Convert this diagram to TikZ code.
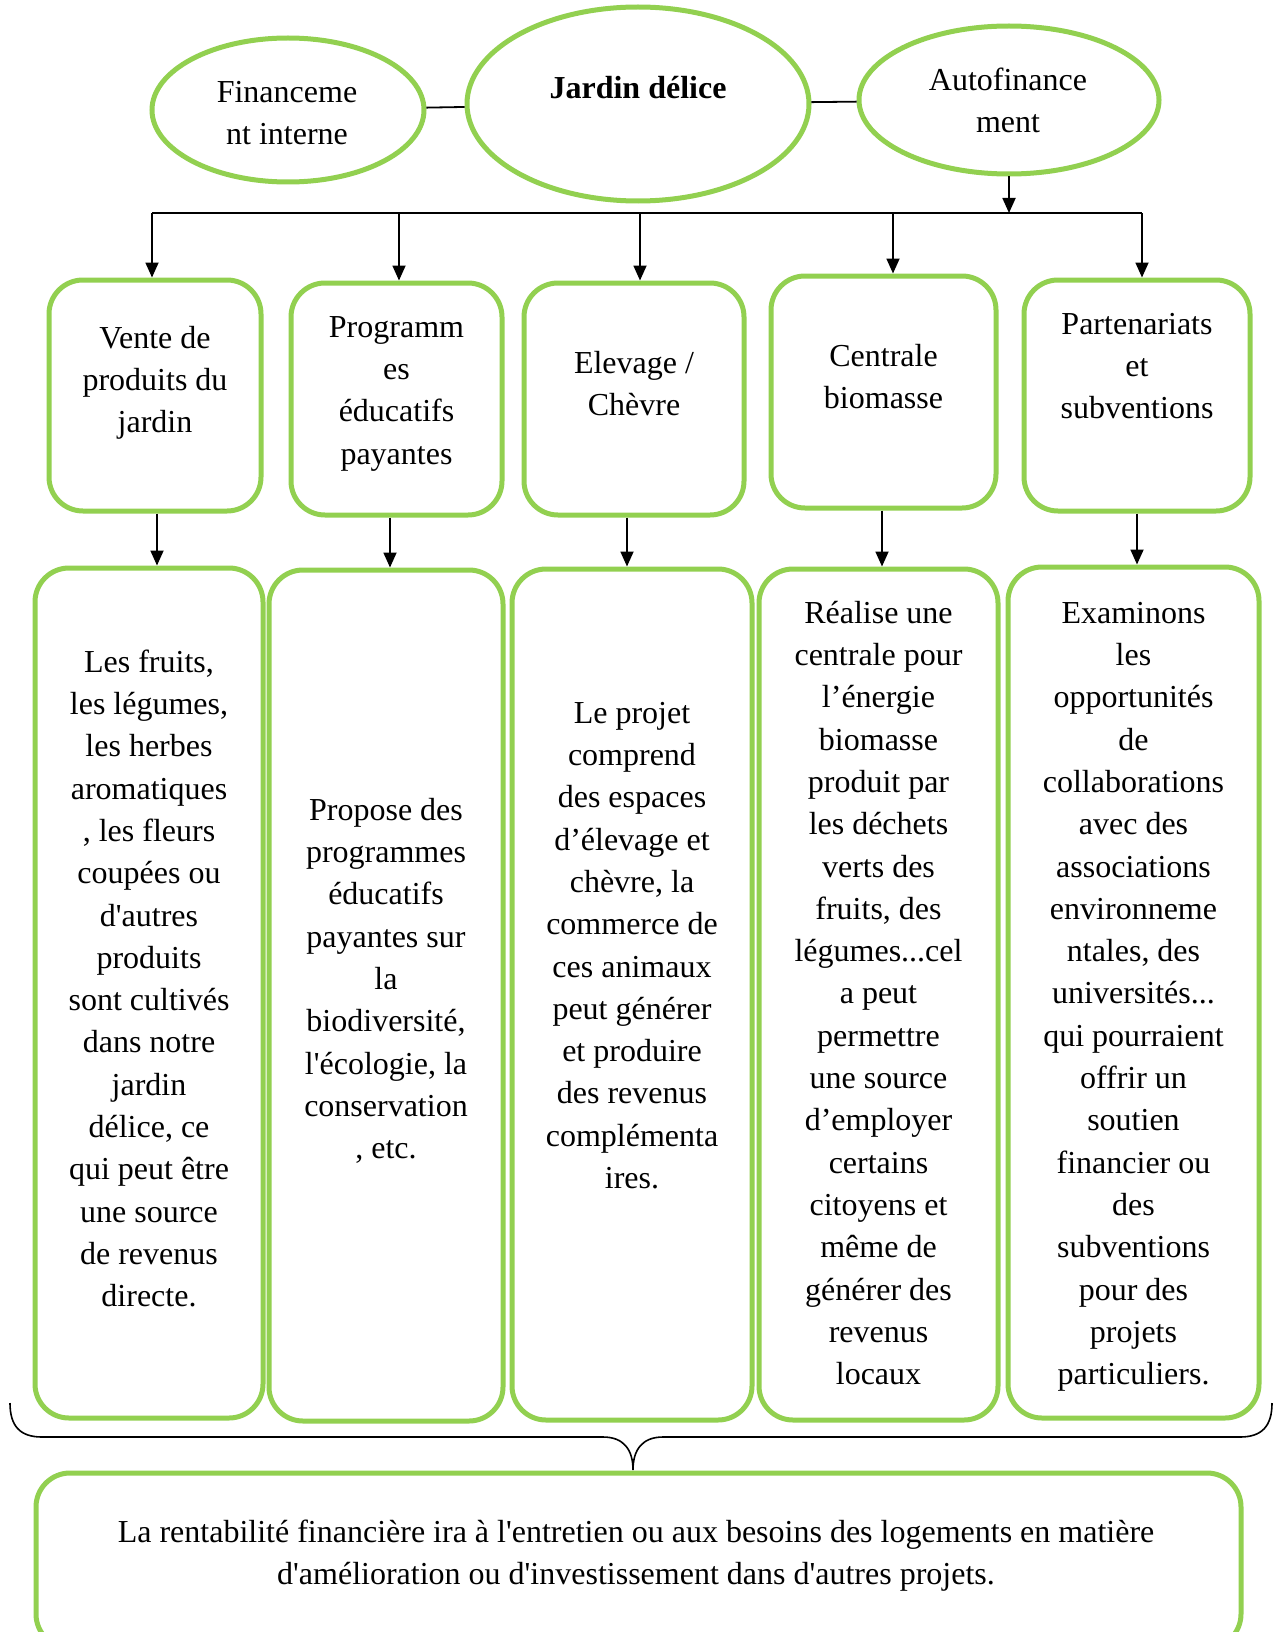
\documentclass[tikz,border=0pt]{standalone}
\usepackage{fontspec}
\setmainfont{Liberation Serif}[Ligatures=TeXOff]
\usetikzlibrary{shapes.geometric,arrows.meta}
\definecolor{lgreen}{HTML}{92D050}
\tikzset{
  gbox/.style={draw=lgreen, line width=5pt, rectangle, rounded corners=34pt, inner sep=0pt},
  gell/.style={draw=lgreen, line width=5pt, ellipse, inner sep=0pt},
  txt/.style={font=\fontsize{32}{42.3}\selectfont, align=center, inner sep=0pt, anchor=north},
  conn/.style={draw=black, line width=1.8pt},
  arr/.style={conn, -{Triangle[length=15pt,width=13pt]}},
}
\begin{document}
\begin{tikzpicture}[x=1pt,y=-1pt]
\clip (0,0) rectangle (1279,1632);
\path[use as bounding box] (0,0) rectangle (1279,1632);

% ellipses
\node[gell, minimum width=272pt, minimum height=144pt] (e1) at (288,110) {};
\node[gell, minimum width=342pt, minimum height=194pt] (e2) at (638,104) {};
\node[gell, minimum width=300pt, minimum height=148pt] (e3) at (1009,100) {};
\node[txt] (e1t) at (287,72.4) {\strut Financeme\\nt interne};
\node[txt] (e2t) at (638,68.4) {\strut\textbf{Jardin délice}};
\node[txt] (e3t) at (1008,60.4) {\strut Autofinance\\ment};
\draw[conn] (e1) -- (e2);
\draw[conn] (e2) -- (e3);

% top boxes
\node[gbox, minimum width=212pt, minimum height=231pt] (b1) at (155,395.5) {};
\node[gbox, minimum width=211pt, minimum height=232pt] (b2) at (396.5,399) {};
\node[gbox, minimum width=220pt, minimum height=232pt] (b3) at (634,399) {};
\node[gbox, minimum width=225pt, minimum height=232pt] (b4) at (883.5,392) {};
\node[gbox, minimum width=226pt, minimum height=231pt] (b5) at (1137,395.5) {};
\node[txt] (b1t) at (155,318.4) {\strut Vente de\\produits du\\jardin};
\node[txt] (b2t) at (396.5,307.4) {\strut Programm\\es\\éducatifs\\payantes};
\node[txt] (b3t) at (634,343.4) {\strut Elevage /\\Chèvre};
\node[txt] (b4t) at (883.5,336.4) {\strut Centrale\\biomasse};
\node[txt] (b5t) at (1137,304.4) {\strut Partenariats\\et\\subventions};

% distribution bar
\coordinate (d1) at (152,213);
\coordinate (d2) at (399,213);
\coordinate (d3) at (640,213);
\coordinate (d4) at (893,213);
\coordinate (d5) at (1142,213);
\draw[conn] (d1) -- (d5);
\draw[arr] (e3.south) -- (e3.south |- d1);
\draw[arr] (d1) -- (d1 |- b1.north);
\draw[arr] (d2) -- (d2 |- b2.north);
\draw[arr] (d3) -- (d3 |- b3.north);
\draw[arr] (d4) -- (d4 |- b4.north);
\draw[arr] (d5) -- (d5 |- b5.north);

% bottom boxes
\node[gbox, minimum width=228pt, minimum height=850pt] (c1) at (149,993) {};
\node[gbox, minimum width=234pt, minimum height=851pt] (c2) at (386,995.5) {};
\node[gbox, minimum width=240pt, minimum height=851pt] (c3) at (632,994.5) {};
\node[gbox, minimum width=239pt, minimum height=851pt] (c4) at (878.5,994.5) {};
\node[gbox, minimum width=251pt, minimum height=851pt] (c5) at (1133.5,992.5) {};

\node[txt] (c1t) at (149,642.4) {\strut Les fruits,\\les légumes,\\les herbes\\aromatiques\\, les fleurs\\coupées ou\\d'autres\\produits\\sont cultivés\\dans notre\\jardin\\délice, ce\\qui peut être\\une source\\de revenus\\directe.};
\node[txt] (c2t) at (386,790.4) {\strut Propose des\\programmes\\éducatifs\\payantes sur\\la\\biodiversité,\\l'écologie, la\\conservation\\, etc.};
\node[txt] (c3t) at (632,693.4) {\strut Le projet\\comprend\\des espaces\\d’élevage et\\chèvre, la\\commerce de\\ces animaux\\peut générer\\et produire\\des revenus\\complémenta\\ires.};
\node[txt] (c4t) at (878.5,593.4) {\strut Réalise une\\centrale pour\\l’énergie\\biomasse\\produit par\\les déchets\\verts des\\fruits, des\\légumes...cel\\a peut\\permettre\\une source\\d’employer\\certains\\citoyens et\\même de\\générer des\\revenus\\locaux};
\node[txt] (c5t) at (1133.5,593.4) {\strut Examinons\\les\\opportunités\\de\\collaborations\\avec des\\associations\\environneme\\ntales, des\\universités...\\qui pourraient\\offrir un\\soutien\\financier ou\\des\\subventions\\pour des\\projets\\particuliers.};

\draw[arr] ([xshift=2pt]b1.south) -- ([xshift=2pt]b1.south |- c1.north);
\draw[arr] ([xshift=-6.5pt]b2.south) -- ([xshift=-6.5pt]b2.south |- c2.north);
\draw[arr] ([xshift=-7pt]b3.south) -- ([xshift=-7pt]b3.south |- c3.north);
\draw[arr] ([xshift=-1.5pt]b4.south) -- ([xshift=-1.5pt]b4.south |- c4.north);
\draw[arr] (b5.south) -- (b5.south |- c5.north);

% brace
\coordinate (brL) at (10,1403);
\coordinate (brR) at (1272,1403);
\coordinate (brT) at (633,1470);
\draw[line width=1.6pt] (brL) .. controls (10,1426) and (20,1437) .. (42,1437)
  -- (603,1437) .. controls (624,1437) and (633,1450) .. (brT)
  .. controls (633,1450) and (642,1437) .. (663,1437)
  -- (1240,1437) .. controls (1262,1437) and (1272,1426) .. (brR);

% bottom box
\node[gbox, minimum width=1205pt, minimum height=175pt] (fin) at (638.5,1560.5) {};
\node[txt] (fint) at (636,1512.4) {\strut La rentabilité financière ira à l'entretien ou aux besoins des logements en matière\\d'amélioration ou d'investissement dans d'autres projets.};
\end{tikzpicture}
\end{document}
